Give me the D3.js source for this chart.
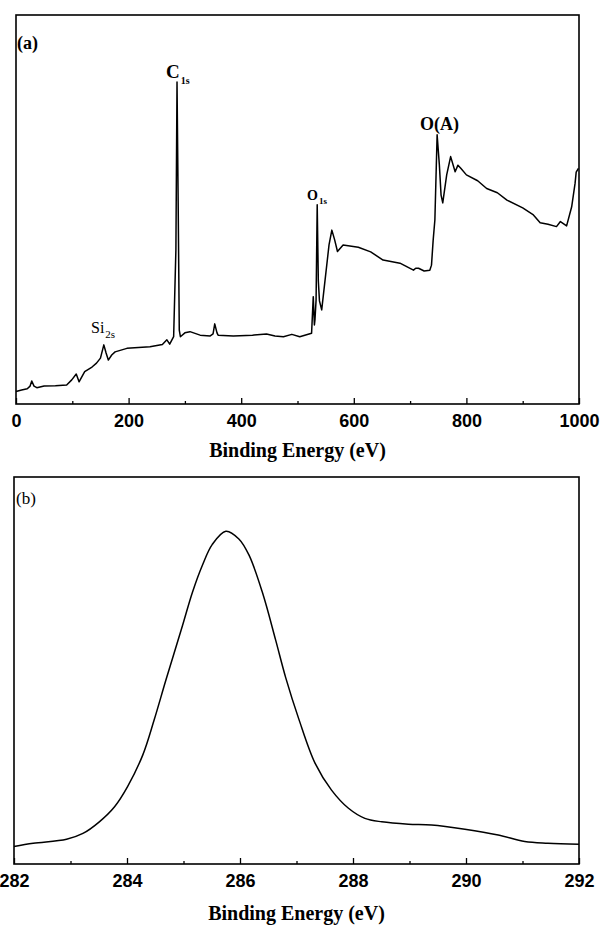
<!DOCTYPE html>
<html>
<head>
<meta charset="utf-8">
<script src="https://cdn.jsdelivr.net/npm/d3@7"></script>
<style>
  body { margin: 0; background: #fff; }
  svg { display: block; }
</style>
</head>
<body>
<div id="chart"></div>
<script>
// panel (a): survey spectrum, binding energy (eV) vs intensity (a.u.)
var surveyEnergy = [0, 10, 20, 25, 28, 32, 37, 50, 70, 90, 99, 107, 112, 122, 135, 143, 150, 156, 160, 164, 170, 176, 197, 238, 260, 268, 273, 280, 284, 286, 288, 290, 292, 300, 309, 327, 345, 350, 353, 357, 359, 386, 420, 445, 460, 475, 490, 504, 525, 528, 530, 531, 533, 535, 537, 539, 543, 550, 556, 561, 566, 571, 581, 608, 630, 652, 682, 706, 710, 715, 725, 735, 738, 741, 744, 748, 752, 755, 758, 765, 772, 780, 785, 790, 800, 820, 836, 855, 872, 900, 919, 931, 945, 960, 967, 978, 987, 993, 995, 999];
var surveyIntensity = [3.2, 3.6, 3.9, 4.6, 5.9, 4.6, 4.2, 4.6, 4.7, 4.9, 6.2, 7.7, 5.7, 8.3, 9.5, 10.5, 11.8, 15.2, 13.1, 11.3, 12.6, 13.4, 14.3, 14.7, 15.3, 16.5, 15.4, 17.3, 39.6, 82.8, 52.4, 19.0, 17.3, 18.3, 18.6, 17.7, 17.5, 18.0, 20.6, 18.3, 17.7, 17.5, 17.7, 18.0, 17.5, 17.3, 17.9, 17.3, 18.2, 27.6, 20.3, 21.6, 26.7, 51.2, 31.6, 26.5, 24.2, 33.2, 40.9, 44.7, 42.2, 39.2, 40.9, 40.3, 39.1, 37.0, 36.2, 34.4, 34.9, 34.9, 34.2, 34.4, 35.7, 42.2, 47.3, 69.2, 61.4, 53.7, 51.7, 58.9, 63.6, 59.7, 61.4, 60.6, 58.9, 57.4, 55.4, 54.3, 52.4, 50.4, 48.6, 46.6, 46.2, 45.6, 46.9, 45.8, 50.7, 56.7, 59.6, 60.6];
var surveyTicks = [0, 200, 400, 600, 800, 1000];
var surveyMinor = [100, 300, 500, 700, 900];

// panel (b): C1s high resolution
var c1sEnergy = [282.0, 282.34, 282.93, 283.22, 283.51, 283.78, 284.01, 284.28, 284.48, 284.69, 284.98, 285.16, 285.34, 285.51, 285.75, 285.98, 286.16, 286.40, 286.63, 286.81, 287.04, 287.33, 287.62, 287.92, 288.21, 288.51, 288.98, 289.39, 289.98, 290.57, 291.04, 291.45, 292.0];
var c1sIntensity = [4.5, 5.35, 6.4, 7.9, 10.9, 14.8, 20.0, 28.2, 37.2, 47.6, 61.5, 70.3, 77.4, 82.6, 86.0, 84.0, 79.8, 70.0, 57.9, 48.1, 37.5, 26.0, 19.1, 14.4, 11.8, 10.9, 10.3, 10.1, 9.0, 7.5, 5.8, 5.35, 5.1];
var c1sTicks = [282, 284, 286, 288, 290, 292];
var c1sMinor = [283, 285, 287, 289, 291];

var svg = d3.select("#chart").append("svg")
    .attr("width", 602)
    .attr("height", 926);

function drawPanel(box, xs, ys, xDomain, ticks, minor, curve, titleY){
  var x = d3.scaleLinear().domain(xDomain).range([box.left, box.right]);
  var y = d3.scaleLinear().domain([0, 100]).range([box.bottom, box.top]);

  var line = d3.line()
      .x(function(d, i) { return x(xs[i]); })
      .y(function(d, i) { return y(ys[i]); })
      .curve(curve);

  svg.append("path")
      .datum(ys)
      .attr("fill", "none")
      .attr("stroke", "#000")
      .attr("stroke-width", 1.5)
      .attr("stroke-linejoin", "round")
      .attr("d", line);

  // minor ticks (inward)
  svg.append("g")
      .attr("transform", "translate(0," + box.bottom + ")")
      .call(d3.axisBottom(x).tickValues(minor).tickSize(-3).tickFormat(""))
      .call(function(g) { g.select(".domain").remove(); })
      .selectAll("line").attr("stroke-width", 1.3);

  // major ticks with labels
  var ax = svg.append("g")
      .attr("transform", "translate(0," + box.bottom + ")")
      .call(d3.axisBottom(x).tickValues(ticks).tickSize(-6).tickPadding(10).tickFormat(d3.format("d")));
  ax.select(".domain").remove();
  ax.selectAll("line").attr("stroke-width", 1.3);
  ax.selectAll("text")
      .attr("font-family", "'Liberation Sans', Arial, sans-serif")
      .attr("font-weight", "bold")
      .attr("font-size", 18)
      .attr("fill", "#000");

  // frame
  svg.append("rect")
      .attr("x", box.left)
      .attr("y", box.top)
      .attr("width", box.right - box.left)
      .attr("height", box.bottom - box.top)
      .attr("fill", "none")
      .attr("stroke", "#000")
      .attr("stroke-width", 1.6);

  svg.append("text")
      .attr("x", (box.left + box.right) / 2)
      .attr("y", titleY)
      .attr("text-anchor", "middle")
      .attr("font-family", "'Liberation Serif', 'Times New Roman', serif")
      .attr("font-weight", "bold")
      .attr("font-size", 20)
      .text("Binding Energy (eV)");
}

drawPanel({left: 16, right: 579, top: 15, bottom: 404}, surveyEnergy, surveyIntensity, [0, 1000], surveyTicks, surveyMinor, d3.curveLinear, 457);
drawPanel({left: 14, right: 579, top: 477, bottom: 864}, c1sEnergy, c1sIntensity, [282, 292], c1sTicks, c1sMinor, d3.curveCatmullRom.alpha(0.5), 920);

// peak labels
function label(x, yb, main, sub, size, weight, subSize){
  var t = svg.append("text")
      .attr("x", x)
      .attr("y", yb)
      .attr("font-family", "'Liberation Serif', 'Times New Roman', serif")
      .attr("font-weight", weight)
      .attr("font-size", size)
      .text(main);
  if(sub){
    t.append("tspan")
        .attr("dx", 1)
        .attr("dy", size * 0.3)
        .attr("font-size", subSize)
        .text(sub);
  }
}

svg.append("text")
    .attr("x", 17).attr("y", 49)
    .attr("font-family", "'Liberation Serif', 'Times New Roman', serif")
    .attr("font-weight", "bold")
    .attr("font-size", 18)
    .text("(a)");

svg.append("text")
    .attr("x", 16).attr("y", 504)
    .attr("font-family", "'Liberation Serif', 'Times New Roman', serif")
    .attr("font-size", 17)
    .text("(b)");

label(166, 78, "C", "1s", 19, "bold", 10);
label(420, 130, "O(A)", null, 18, "bold");
label(307, 200, "O", "1s", 14, "bold", 9);
label(91, 333, "Si", "2s", 16, "normal", 11);
</script>
</body>
</html>
